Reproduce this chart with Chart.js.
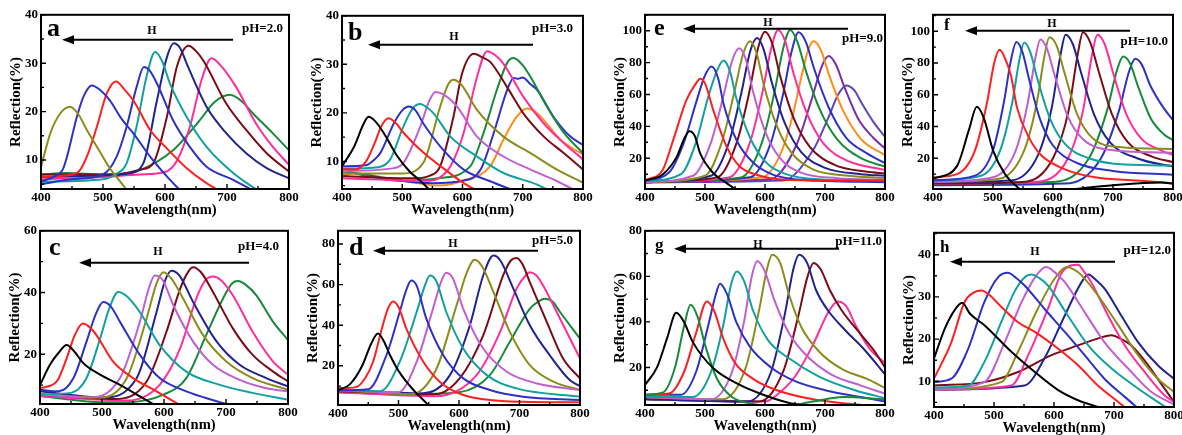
<!DOCTYPE html>
<html>
<head>
<meta charset="utf-8">
<script src="https://cdn.jsdelivr.net/npm/chart.js@4.4.0/dist/chart.umd.min.js"></script>
<style>
  body { margin: 0; background: #fff; width: 1182px; height: 435px; position: relative; overflow: hidden; }
  canvas { position: absolute; }
</style>
</head>
<body>
<canvas id="pa"></canvas><canvas id="pb"></canvas><canvas id="pc"></canvas><canvas id="pd"></canvas>
<canvas id="pe"></canvas><canvas id="pf"></canvas><canvas id="pg"></canvas><canvas id="ph"></canvas>
<script>
// wavelength axis + labels
var wavelengthTicks = [400, 500, 600, 700, 800];
var phLabels = ['pH=2.0', 'pH=3.0', 'pH=4.0', 'pH=5.0', 'pH=9.0', 'pH=10.0', 'pH=11.0', 'pH=12.0'];
var yTicksA = [10, 20, 30, 40];
var yTicksC = [20, 40, 60];
var yTicksD = [20, 40, 60, 80];
var yTicksE = [20, 40, 60, 80, 100];
var yTicksH = [10, 20, 30, 40];

// spectra, [wavelength nm, reflection %]
var seriesA = [
  [[400,8.5],[415,15.5],[431,19.6],[447,21],[460,19.5],[474,16.2],[495,11.7],[511,8.3],[525,6],[540,3.5]],
  [[400,5.5],[420,6.5],[435,8],[442,10.7],[458,19],[470,23.5],[482,25.4],[495,24.5],[511,22.3],[530,18.5],[549,15.5],[576,10.7],[603,6.6],[626,3.5]],
  [[400,6.5],[440,6.8],[460,7.5],[474,10.7],[490,16.8],[506,23.7],[521,26.2],[535,24.5],[549,22.3],[576,16.2],[603,12.4],[635,8.3],[667,5.2],[690,3.5]],
  [[400,5],[450,6],[500,7],[522,10.7],[538,16.8],[554,25],[566,29.2],[575,28.5],[587,25.8],[613,18.2],[640,12.7],[667,8.6],[710,5.9],[745,3.5]],
  [[400,5.5],[500,6],[520,7],[538,9.3],[554,16.8],[570,27.1],[584,32.3],[595,30.5],[608,25.8],[635,18.9],[667,12.7],[710,7.3],[752,3.5]],
  [[400,6.5],[500,6.8],[540,7.2],[565,9.3],[587,22.3],[603,31.2],[614,34.1],[625,33],[635,29.9],[667,21],[699,15.5],[731,11.4],[764,8.3],[800,6.2]],
  [[400,7],[520,7],[560,8],[581,9.3],[603,18.9],[619,29.2],[638,33.6],[650,32.5],[662,30.5],[699,21.6],[731,16.2],[764,11.4],[800,7.6]],
  [[400,6],[500,6.5],[560,7],[600,7.5],[620,10],[640,16.8],[660,27],[675,31],[690,29.5],[715,25],[747,17.5],[774,12.7],[800,9]],
  [[400,7],[440,7.3],[500,7],[540,7.3],[560,7.9],[613,12],[656,18.2],[680,22],[705,23.5],[725,22],[742,19.6],[774,15.5],[800,12]]
];
var seriesB = [
  [[400,9],[420,13],[435,17.5],[444,19.2],[455,18.3],[469,15.9],[491,11.2],[513,7.8],[530,6],[550,3.5]],
  [[400,8.5],[420,8.3],[440,10],[455,14],[465,17.2],[477,18.9],[490,17.8],[502,15.9],[535,11.8],[569,8.5],[602,5.5],[630,3.5]],
  [[400,9],[440,9.2],[455,10.5],[464,11.8],[486,17.8],[500,20.5],[511,21.3],[522,20.5],[535,17.8],[563,13.1],[602,8.3],[646,5.9],[695,3.5]],
  [[400,8.5],[460,8.8],[480,10.4],[502,17.2],[518,21],[530,21.8],[540,21.2],[552,19.9],[580,15.1],[624,11],[668,7.6],[724,5.2],[750,3.5]],
  [[400,8],[480,8.5],[502,9.7],[530,17.2],[545,22.5],[555,24.3],[568,23.8],[591,21.3],[624,15.1],[668,11],[713,8.3],[757,5.9],[795,3.5]],
  [[400,7.5],[500,7.5],[535,9.7],[563,21.3],[576,25.8],[585,26.8],[598,25.8],[624,20.6],[668,15.1],[713,11.7],[757,8.3],[800,5.6]],
  [[400,7],[520,6.5],[545,7],[563,9],[585,19.2],[599,28],[619,32.2],[632,31.5],[646,30.5],[674,25.3],[701,19.9],[735,15.1],[768,11.7],[800,8.3]],
  [[400,6.5],[540,6],[560,6.5],[580,9],[602,15.9],[624,27.4],[641,32.7],[655,31.8],[668,30.1],[701,23.3],[735,17.8],[768,13.8],[800,10.4]],
  [[400,8],[500,6],[560,6.5],[613,9],[635,15.9],[657,24.7],[675,30.5],[685,31.3],[700,29.8],[713,27.4],[740,21.3],[768,15.9],[800,11.7]],
  [[400,8],[550,5.5],[600,6],[630,8.3],[652,15.9],[674,24.7],[685,27.2],[692,27],[700,27.3],[712,26],[724,24.7],[751,19.2],[779,15.1],[800,13.4]],
  [[400,7],[420,7.5],[500,6],[560,5],[600,6],[646,9],[668,14.5],[690,19.2],[707,20.9],[720,20.3],[735,18.5],[762,14.5],[800,11.4]]
];
var seriesC = [
  [[400,10],[416,16.6],[430,20.5],[443,23],[455,21],[470,17.1],[497,13.4],[529,10.1],[566,5.8],[590,3]],
  [[400,9],[427,11.2],[443,18.7],[456,26.2],[469,30],[480,28.8],[491,26.2],[518,17.6],[550,12.3],[588,8],[630,3]],
  [[400,8.5],[430,8],[454,12.3],[475,24.1],[490,33],[502,36.9],[514,35.5],[529,30.5],[561,19.8],[593,12.3],[636,8],[685,4.8],[715,3]],
  [[400,7],[450,7.5],[475,12.3],[497,25.1],[512,35],[526,40.2],[540,38.8],[561,33.7],[593,23],[636,14.4],[690,10.1],[743,7.5],[800,5.3]],
  [[400,7],[480,6],[529,12.3],[561,30.5],[575,41],[585,45.5],[598,44],[615,35.9],[647,24.1],[679,16.6],[722,11.7],[765,9],[800,8]],
  [[400,7],[500,6],[540,12.3],[572,31.6],[588,43],[599,46.6],[612,44.5],[631,38],[663,26.2],[701,17.6],[743,12.3],[800,8.5]],
  [[400,8],[500,6],[556,12.3],[588,33.7],[602,44],[612,47.1],[625,45.5],[647,36.9],[685,24.1],[722,16.6],[765,12.3],[800,9.6]],
  [[400,7],[520,5.5],[572,11.2],[604,27.3],[626,41.2],[640,47],[647,48.2],[660,46.5],[679,40.2],[711,28.4],[743,19.8],[776,14.4],[800,11.2]],
  [[400,6.5],[540,5],[593,10.1],[626,21.9],[652,38],[667,44],[679,45.2],[692,44],[711,39.1],[743,27.3],[776,17.6],[800,13.4]],
  [[400,6.5],[500,4.5],[540,4.5],[600,7],[636,12.3],[668,26.2],[695,38],[710,43],[719,43.7],[732,42.5],[749,39.1],[776,30.5],[800,24.6]]
];
var seriesD = [
  [[400,8],[420,11],[440,20],[455,31],[466,35.9],[476,32],[486,25.2],[500,17.5],[513,12.2],[528,7],[541,3.2],[555,-1]],
  [[400,9],[430,9.5],[445,14],[458,22],[474,40],[483,48.5],[491,51.7],[500,49],[513,38.3],[541,22],[568,12.2],[607,5.6],[651,3.2],[706,2.3],[800,2]],
  [[400,8],[450,8.5],[480,25.2],[502,46.5],[513,57.5],[521,62],[530,59.5],[546,43.2],[574,25.2],[607,13.8],[651,8.1],[706,4.8],[800,3.2]],
  [[400,8],[470,7.5],[502,22],[530,46.5],[543,59],[552,64.5],[562,62],[579,46.5],[607,28.5],[646,15.4],[695,8.9],[800,4.8]],
  [[400,8],[500,7],[530,22],[557,48.1],[570,61],[579,65.8],[590,63],[607,48.1],[640,28.5],[679,17.1],[729,11.3],[800,8.1]],
  [[400,8],[520,6],[563,18.7],[596,49.8],[613,66],[626,72.2],[638,69],[657,56.3],[684,36.7],[717,20.3],[756,12.2],[800,8.1]],
  [[400,8],[540,6.5],[585,15.4],[618,40],[640,64.5],[657,74.3],[668,72],[690,57.9],[717,40],[750,25.2],[783,13],[800,10]],
  [[400,7.5],[560,6],[601,13.8],[640,35],[673,64.5],[686,72],[695,73.1],[705,70],[717,61.2],[745,41.6],[772,23.6],[800,13.8]],
  [[400,7],[560,5],[629,15.4],[668,36.7],[695,57.9],[710,64.5],[717,66.1],[728,64.5],[739,59.6],[767,43.2],[800,23.6]],
  [[400,7],[500,6],[600,7],[651,15.4],[684,31.8],[717,48.1],[733,52],[742,53],[755,51.5],[767,46.5],[800,33.4]]
];
var seriesE = [
  [[400,6],[430,10],[453,21],[465,32],[474,37],[483,34],[492,23],[514,10.6],[536,4.4],[553,0]],
  [[400,6],[430,13],[447,31.4],[469,56.4],[485,67],[492,69.9],[500,67],[514,50],[536,27.3],[558,14.8],[586,9.6],[631,6.5],[700,6],[800,6]],
  [[400,6],[440,11],[464,29],[486,56],[500,72],[511,77.6],[522,70],[531,54],[553,31],[581,17],[614,9.6],[660,6.5],[800,5]],
  [[400,5.5],[460,10],[485,30],[505,58],[520,75],[531,81.3],[542,74],[552,58],[575,33],[600,18],[635,10],[700,6.5],[800,5.5]],
  [[400,5],[480,9],[510,30],[530,58],[546,82],[557,89],[568,82],[580,62],[600,37],[625,20],[660,11],[720,7.5],[800,6.5]],
  [[400,5],[500,9],[528,30],[548,60],[564,86],[575,93.4],[586,86],[598,66],[620,40],[645,23],[680,13],[740,9],[800,7.5]],
  [[400,5],[510,9],[540,30],[560,60],[576,88],[587,95.4],[598,88],[611,68],[633,42],[660,24],[700,14],[760,10],[800,9]],
  [[400,5],[520,8],[553,30],[573,60],[589,90],[600,99.4],[612,92],[625,72],[648,45],[675,27],[715,16],[770,11.5],[800,10.5]],
  [[400,5],[540,8],[575,30],[595,60],[611,90],[622,100.4],[634,93],[647,74],[670,48],[698,29],[740,18],[800,12.7]],
  [[400,5],[560,8],[595,30],[615,60],[631,90],[642,100.4],[654,93],[668,75],[692,50],[720,32],[760,20],[800,14.8]],
  [[400,5],[575,8],[610,30],[630,60],[645,88],[656,99],[668,93],[682,76],[706,52],[735,33],[770,23],[800,16.9]],
  [[400,5],[595,8],[625,22],[645,45],[660,70],[672,88],[681,93.4],[693,88],[707,72],[730,50],[760,32],[800,22]],
  [[400,5],[610,7],[652,28],[677,56],[695,78],[706,84.2],[718,79],[732,65],[755,45],[780,33],[800,26.2]],
  [[400,5],[630,6],[680,25],[705,45],[722,60],[735,65.7],[748,63],[762,54],[782,42],[800,33.5]]
];
var seriesF = [
  [[400,7],[440,15],[460,38],[473,52.4],[485,45],[500,25],[520,10],[540,2],[560,-2],[620,0],[700,3],[780,4.7],[800,4]],
  [[400,8],[440,10],[470,25],[490,55],[502,80],[511,88.3],[520,83],[530,72],[540,52],[560,33],[580,22],[620,13],[670,8],[740,6],[800,4.3]],
  [[400,6],[470,9],[500,25],[518,55],[530,82],[539,93.3],[549,87],[560,70],[578,45],[600,28],[640,17],[700,12],[800,9.6]],
  [[400,6],[480,9],[512,25],[532,55],[544,82],[552,92.9],[562,87],[574,70],[595,45],[620,29],[660,20],[720,16],[800,15.4]],
  [[400,5],[500,8],[538,25],[558,55],[571,84],[579,94.8],[590,89],[603,72],[625,46],[650,32],[700,25],[800,23.5]],
  [[400,5],[510,7],[552,25],[573,55],[586,85],[594,96.2],[606,91],[619,74],[640,48],[665,33],[710,27],[800,25.8]],
  [[400,5],[530,6],[575,22],[598,52],[612,84],[621,97.9],[633,92],[646,75],[668,48],[695,30],[740,20],[800,14.8]],
  [[400,4],[550,5],[600,20],[626,50],[641,85],[650,99.4],[662,93],[676,75],[698,48],[725,30],[765,21],[800,17.5]],
  [[400,4],[570,5],[625,20],[650,50],[665,85],[674,97.9],[686,92],[700,74],[722,48],[748,32],[780,25],[800,22]],
  [[400,4],[600,5],[660,20],[690,50],[707,76],[717,84.1],[728,80],[742,65],[763,45],[785,35],[800,31.5]],
  [[400,3],[620,4],[680,20],[710,50],[727,75],[737,82.7],[748,79],[762,66],[782,53],[800,44]]
];
var seriesG = [
  [[400,12.3],[420,20],[437,33],[452,44],[465,40],[480,31],[514,19.6],[558,12.3],[597,8],[642,4.3],[680,3]],
  [[400,8],[430,9],[450,20],[465,38],[476,47.5],[488,42],[500,30],[520,15],[545,7],[580,4],[630,3],[680,5],[730,7],[800,6]],
  [[400,8],[440,8.5],[465,18],[485,35],[503,49],[515,45],[530,33],[550,22],[580,15],[620,10],[680,6],[740,4],[780,3]],
  [[400,8],[460,8],[485,18],[505,38],[518,52],[525,56.7],[537,52],[552,40],[575,29],[610,20],[650,14],[700,10],[760,7],[800,5]],
  [[400,7],[480,7],[510,18],[530,38],[544,57],[553,62.1],[565,58],[580,45],[605,32],[640,24],[690,16],[750,10],[800,6.5]],
  [[400,7],[510,6],[545,18],[565,40],[578,60],[587,66.7],[600,62],[615,50],[640,35],[670,25],[710,17],[760,12],[800,8.5]],
  [[400,7],[530,6],[568,20],[590,45],[604,64],[612,69.5],[625,66],[640,52],[660,38],[690,27],[730,19],[770,15],[800,11]],
  [[400,6],[570,5],[610,18],[632,42],[648,64],[657,69.5],[670,66],[685,54],[705,45],[735,36],[765,28],[800,17]],
  [[400,6],[590,5],[630,18],[655,42],[671,60],[681,65.9],[693,63],[708,54],[728,45],[755,36],[780,28],[800,20]],
  [[400,7],[600,5],[620,8],[650,16],[680,30],[705,44],[721,49],[735,47],[752,38],[775,28],[800,22]]
];
var seriesH = [
  [[400,15.4],[418,22.5],[435,27],[447,28.6],[460,26],[484,23.3],[529,17],[568,12.2],[607,7.9],[640,5.5],[673,3.9],[690,3]],
  [[400,10.6],[429,19.3],[451,28.8],[466,31],[479,31.5],[492,30.5],[507,28.4],[540,24],[568,21.7],[607,17.7],[640,13.8],[673,9],[707,5.1],[725,3]],
  [[400,9.8],[429,10.6],[457,17.7],[484,28.8],[507,34.7],[523,35.7],[537,34.5],[551,32.7],[584,27.2],[618,21.7],[651,16.2],[684,10.6],[718,6.3],[745,3]],
  [[400,8.5],[457,9],[484,14.6],[512,24],[534,31.2],[550,34.5],[562,35.3],[575,34.5],[590,32.7],[623,25.6],[657,18.5],[696,13],[740,8.3],[773,5.1],[795,3]],
  [[400,8],[484,9.8],[518,19.3],[546,28.8],[570,35],[587,37.1],[600,36],[618,33.5],[651,26.4],[684,19.3],[729,12.2],[762,7.5],[800,4.5]],
  [[400,8],[512,9.8],[540,17],[573,27.2],[601,34.3],[621,37.1],[633,36.5],[646,35.1],[673,30.4],[707,23.3],[740,16.2],[773,10.6],[800,7.5]],
  [[400,8],[529,9],[557,16.2],[590,27.2],[612,35.5],[630,37.5],[640,37.6],[650,36],[662,33.5],[690,25.6],[718,18.5],[751,12.2],[784,6.7],[800,5.1]],
  [[400,8],[551,9],[584,15.4],[618,25.6],[646,33.5],[657,35.3],[670,34],[684,32],[712,25.6],[740,19.3],[773,13.8],[800,10.6]],
  [[400,9],[484,9.8],[540,12.2],[596,16.2],[640,18.5],[670,20],[696,20.9],[712,20],[729,18.5],[757,13.8],[784,8.3],[800,5.1]]
];

var palette = {
  black: '#000000', red: '#ff1f1f', blue: '#2e32c4', teal: '#12a0a0', violet: '#c25fd0',
  olive: '#8c8c1c', navy: '#23238f', maroon: '#7a0c18', pink: '#ff2e9a', green: '#178a3a',
  orange: '#ff8d1a', purple: '#7a2fa6', indigo: '#5f46b8'
};
var colorsA = ['olive','blue','red','blue','teal','navy','maroon','pink','green'];
var colorsB = ['black','red','blue','teal','violet','olive','maroon','pink','green','blue','orange'];
var colorsC = ['black','red','blue','teal','violet','olive','navy','maroon','pink','green'];
var colorsE = ['black','red','blue','teal','violet','olive','navy','maroon','pink','green','blue','orange','purple','indigo'];
var colorsF = ['black','red','blue','teal','violet','olive','navy','maroon','pink','green','blue'];
var colorsG = ['black','green','red','blue','teal','violet','olive','navy','maroon','pink'];
var colorsH = ['black','red','blue','teal','violet','olive','pink','navy','maroon'];

var AX = 44, AXH = 30, PT = 10, PR = 14;
var serif = "'Liberation Serif', 'DejaVu Serif', serif";

// box, inward ticks, panel letter, arrow, pH label
var frame = {
  id: 'frame',
  afterDraw: function (chart, args, o) {
    var c = chart.ctx, a = chart.chartArea, xs = chart.scales.x, ys = chart.scales.y;
    c.save();
    c.strokeStyle = '#000';
    c.fillStyle = '#000';
    c.lineWidth = 1.4;
    c.beginPath();
    for (var v = 400; v <= 800; v += 50) {
      var px = xs.getPixelForValue(v);
      c.moveTo(px, a.bottom);
      c.lineTo(px, a.bottom - (v % 100 ? 3 : 5));
    }
    var st = o.step / 2;
    for (var w = Math.ceil(ys.min / st) * st; w <= ys.max; w += st) {
      var py = ys.getPixelForValue(w);
      c.moveTo(a.left, py);
      c.lineTo(a.left + (w % o.step ? 3 : 5), py);
    }
    c.stroke();
    c.lineWidth = 2;
    c.strokeRect(a.left, a.top, a.right - a.left, a.bottom - a.top);

    c.textBaseline = 'middle';
    c.textAlign = 'left';
    c.font = 'bold ' + o.letterSize + 'px ' + serif;
    c.fillText(o.letter, a.left + o.letterAt[0], a.top + o.letterAt[1]);
    c.textAlign = 'right';
    c.font = 'bold 13px ' + serif;
    c.fillText(o.ph, a.right - o.phAt[0], a.top + o.phAt[1]);
    c.textAlign = 'center';
    c.font = 'bold 12px ' + serif;
    c.fillText('H', a.left + o.hAt[0], a.top + o.hAt[1]);

    var x1 = a.left + o.arrow[0], x2 = a.left + o.arrow[1], y = a.top + o.arrow[2];
    c.lineWidth = 2;
    c.beginPath();
    c.moveTo(x1 + 8, y);
    c.lineTo(x2, y);
    c.stroke();
    c.beginPath();
    c.moveTo(x1, y);
    c.lineTo(x1 + 12, y - 4.5);
    c.lineTo(x1 + 12, y + 4.5);
    c.closePath();
    c.fill();
    c.restore();
  }
};

var panels = [
  { id: 'pa', box: [41, 14, 289, 189], y: [4, 40, 10], yTicks: yTicksA, series: seriesA, colors: colorsA, letter: 'a', ph: phLabels[0], letterSize: 26, letterAt: [6, 14], arrow: [21, 192, 25], hAt: [111, 16], phAt: [6, 14] },
  { id: 'pb', box: [342, 15, 583, 189], y: [4.3, 40, 10], yTicks: yTicksA, series: seriesB, colors: colorsB, letter: 'b', ph: phLabels[1], letterSize: 26, letterAt: [6, 17], arrow: [26, 191, 29], hAt: [112, 21], phAt: [10, 13] },
  { id: 'pc', box: [40, 230, 288, 404], y: [3.9, 60, 20], yTicks: yTicksC, series: seriesC, colors: colorsC, letter: 'c', ph: phLabels[2], letterSize: 26, letterAt: [9, 17], arrow: [39, 209, 32], hAt: [118, 21], phAt: [9, 16] },
  { id: 'pd', box: [338, 230, 580, 405], y: [0.7, 86.5, 20], yTicks: yTicksD, series: seriesD, colors: colorsC, letter: 'd', ph: phLabels[3], letterSize: 26, letterAt: [11, 17], arrow: [35, 200, 20], hAt: [115, 13], phAt: [7, 10] },
  { id: 'pe', box: [645, 14, 885, 189], y: [0.7, 110, 20], yTicks: yTicksE, series: seriesE, colors: colorsE, letter: 'e', ph: phLabels[4], letterSize: 24, letterAt: [9, 14], arrow: [38, 203, 14], hAt: [123, 8], phAt: [2, 24] },
  { id: 'pf', box: [933, 14, 1173, 189], y: [0.6, 110.4, 20], yTicks: yTicksE, series: seriesF, colors: colorsF, letter: 'f', ph: phLabels[5], letterSize: 17, letterAt: [11, 11], arrow: [32, 197, 16], hAt: [119, 9], phAt: [5, 27] },
  { id: 'pg', box: [645, 230, 885, 405], y: [3.5, 80, 20], yTicks: yTicksD, series: seriesG, colors: colorsG, letter: 'g', ph: phLabels[6], letterSize: 17, letterAt: [10, 15], arrow: [29, 194, 18], hAt: [113, 14], phAt: [3, 11] },
  { id: 'ph', box: [934, 232, 1174, 407], y: [3.9, 45.2, 10], yTicks: yTicksH, series: seriesH, colors: colorsH, letter: 'h', ph: phLabels[7], letterSize: 17, letterAt: [6, 15], arrow: [16, 181, 29], hAt: [101, 19], phAt: [3, 18] }
];

function tickFont() { return { family: serif, weight: 'bold', size: 13 }; }

panels.forEach(function (p) {
  var cv = document.getElementById(p.id);
  var L = p.box[0], T = p.box[1], R = p.box[2], B = p.box[3];
  var w = R - L + AX + PR, h = B - T + PT + AXH;
  cv.width = w; cv.height = h;
  cv.style.width = w + 'px'; cv.style.height = h + 'px';
  cv.style.left = (L - AX) + 'px'; cv.style.top = (T - PT) + 'px';

  new Chart(cv, {
    type: 'line',
    data: {
      datasets: p.series.map(function (s, i) {
        return {
          data: s,
          borderColor: palette[p.colors[i]],
          borderWidth: 2,
          pointRadius: 0,
          fill: false,
          cubicInterpolationMode: 'monotone'
        };
      })
    },
    options: {
      responsive: false,
      animation: false,
      events: [],
      layout: { padding: { top: PT, right: PR, left: 0, bottom: 0 } },
      plugins: {
        legend: { display: false },
        tooltip: { enabled: false },
        frame: { step: p.y[2], letter: p.letter, ph: p.ph, letterSize: p.letterSize, letterAt: p.letterAt, arrow: p.arrow, hAt: p.hAt, phAt: p.phAt }
      },
      scales: {
        x: {
          type: 'linear', min: 400, max: 800,
          afterBuildTicks: function (s) { s.ticks = wavelengthTicks.map(function (v) { return { value: v }; }); },
          afterFit: function (s) { s.height = AXH; },
          grid: { display: false, drawTicks: false },
          border: { display: false },
          ticks: { font: tickFont(), color: '#000', padding: 1, maxRotation: 0, autoSkip: false },
          title: { display: true, text: 'Wavelength(nm)', color: '#000', font: { family: serif, weight: 'bold', size: 14.5 }, padding: { top: 0, bottom: 0 } }
        },
        y: {
          type: 'linear', min: p.y[0], max: p.y[1],
          afterBuildTicks: function (s) { s.ticks = p.yTicks.map(function (v) { return { value: v }; }); },
          afterFit: function (s) { s.width = AX; },
          grid: { display: false, drawTicks: false },
          border: { display: false },
          ticks: { font: tickFont(), color: '#000', padding: 3 },
          title: { display: true, text: 'Reflection(%)', color: '#000', font: { family: serif, weight: 'bold', size: 15 }, padding: { top: 10, bottom: 0 } }
        }
      }
    },
    plugins: [frame]
  });
});
</script>
</body>
</html>
